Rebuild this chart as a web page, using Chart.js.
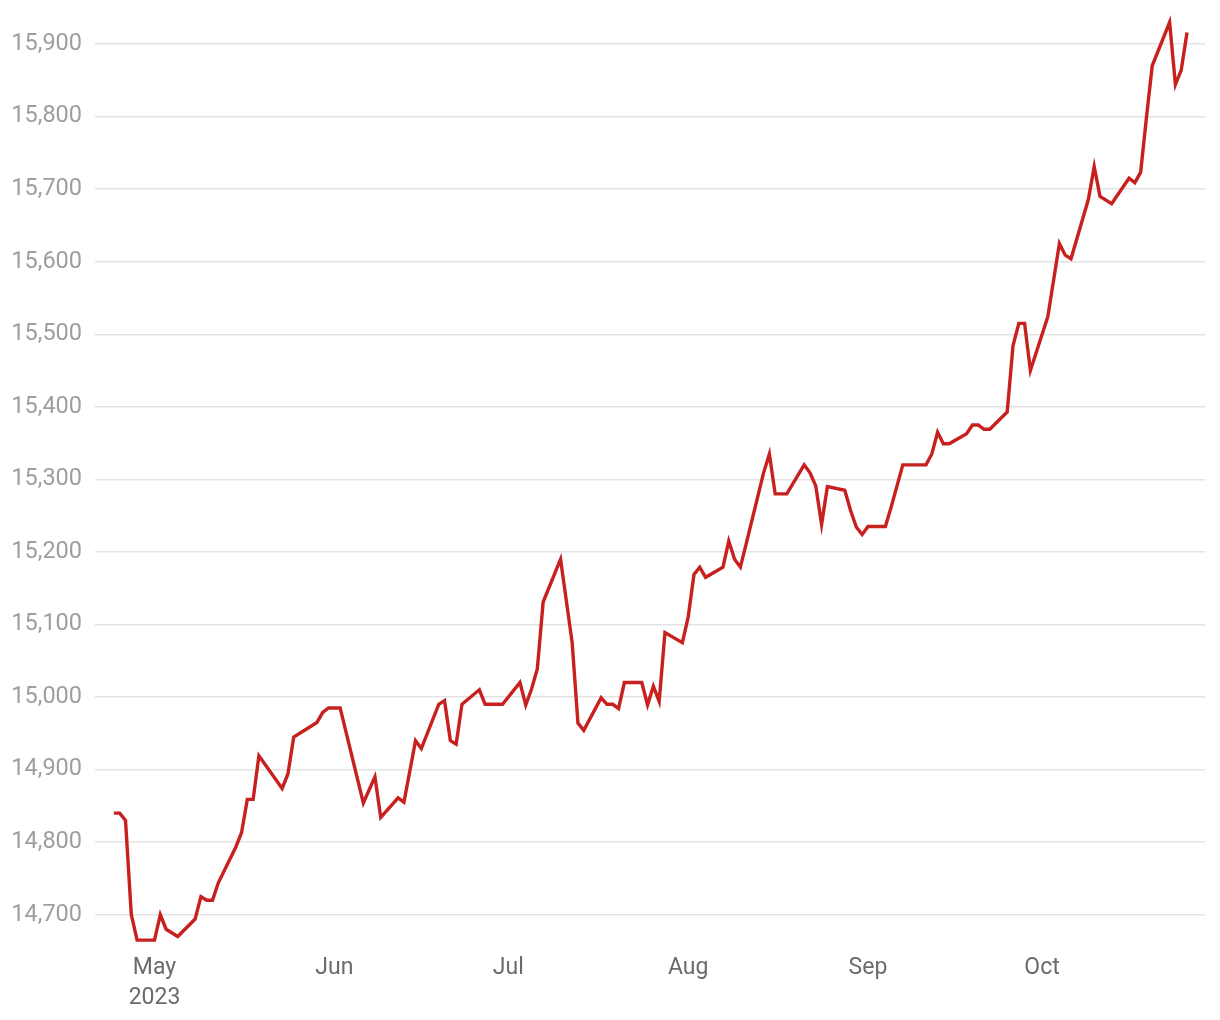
<!DOCTYPE html>
<html>
<head>
<meta charset="utf-8">
<script src="https://cdn.jsdelivr.net/npm/chart.js@4"></script>
<style>
  html, body { margin: 0; padding: 0; background: #ffffff; }
  #wrap { width: 1220px; height: 1020px; position: relative; }
</style>
</head>
<body>
<div id="wrap"><canvas id="c"></canvas></div>
<script>
// Days counted from 2023-05-01 (day 0)
const days = [-7,-6,-5,-4,-3,0,1,2,4,7,8,9,10,11,14,15,16,17,18,22,23,24,28,29,30,32,36,38,39,42,43,45,46,49,50,51,52,53,56,57,60,63,64,65,66,67,70,72,73,74,77,78,79,80,81,84,85,86,87,88,91,92,93,94,95,98,99,100,101,102,105,106,107,109,112,113,114,115,116,119,120,121,122,123,126,127,129,133,134,135,136,137,140,141,142,143,144,147,148,149,150,151,154,156,157,158,161,162,163,165,168,169,170,171,172,175,176,177,178];
const values = [14840,14840,14830,14700,14665,14665,14700,14680,14670,14694,14725,14720,14720,14744,14793,14813,14859,14859,14919,14874,14894,14945,14965,14979,14985,14985,14854,14890,14834,14861,14855,14940,14929,14990,14995,14940,14935,14990,15010,14990,14990,15020,14989,15011,15039,15131,15190,15075,14964,14954,14999,14990,14990,14984,15020,15020,14989,15015,14994,15089,15075,15110,15169,15179,15165,15179,15215,15190,15179,15211,15309,15335,15280,15280,15320,15309,15291,15238,15290,15285,15257,15234,15224,15235,15235,15262,15320,15320,15335,15365,15349,15349,15363,15375,15375,15369,15369,15393,15484,15515,15515,15450,15524,15625,15609,15604,15686,15731,15690,15680,15715,15709,15723,15798,15870,15930,15844,15864,15916];
const monthTickDays = [0, 31, 61, 92, 123, 153];
const monthTickLabels = [["May", "2023"], "Jun", "Jul", "Aug", "Sep", "Oct"];
const yTickValues = [14700,14800,14900,15000,15100,15200,15300,15400,15500,15600,15700,15800,15900];

const points = days.map((d, i) => ({ x: d, y: values[i] }));

new Chart(document.getElementById('c'), {
  type: 'line',
  data: {
    datasets: [{
      data: points,
      borderColor: '#c8201f',
      borderWidth: 3.4,
      pointRadius: 0,
      tension: 0,
      fill: false,
      borderJoinStyle: 'miter'
    }]
  },
  options: {
    responsive: true,
    maintainAspectRatio: false,
    animation: false,
    layout: { padding: { left: 0, right: 15, top: 15, bottom: 13 } },
    plugins: { legend: { display: false }, tooltip: { enabled: false } },
    scales: {
      x: {
        type: 'linear',
        min: -10.26,
        max: 181.1,
        border: { display: false },
        grid: { display: false, drawTicks: false },
        afterBuildTicks: (axis) => { axis.ticks = monthTickDays.map(v => ({ value: v })); },
        afterFit: (axis) => { axis.height = 56; axis.paddingLeft = 0; axis.paddingRight = 0; },
        ticks: {
          padding: 2,
          autoSkip: false,
          maxRotation: 0,
          color: '#6b6b6b',
          font: { family: 'Roboto', size: 23, lineHeight: 1.3 },
          callback: (v) => {
            const i = monthTickDays.indexOf(v);
            return i >= 0 ? monthTickLabels[i] : '';
          }
        }
      },
      y: {
        type: 'linear',
        min: 14650,
        max: 15940,
        border: { display: false },
        grid: { color: '#e3e3e3', lineWidth: 1.5, drawTicks: false },
        afterBuildTicks: (axis) => { axis.ticks = yTickValues.map(v => ({ value: v })); },
        afterFit: (axis) => { axis.width = 95; axis.paddingTop = 0; axis.paddingBottom = 0; },
        ticks: {
          padding: 13,
          color: '#9e9e9e',
          font: { family: 'Roboto', size: 23.5 },
          callback: (v) => v.toLocaleString('en-US')
        }
      }
    }
  }
});
</script>
</body>
</html>
